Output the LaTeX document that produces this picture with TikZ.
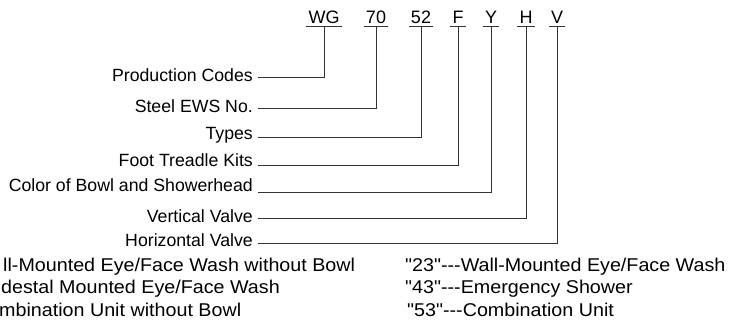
\documentclass[tikz,border=0pt]{standalone}
\usepackage{fontspec}
\setmainfont{Liberation Sans}
\newfontfamily\widefont[FakeStretch=1.065,Ligatures=TeXOff]{Liberation Sans}

\tikzset{
  code/.style={anchor=south, inner xsep=2pt, inner ysep=2pt, text height=12.5pt, text depth=0pt, font=\fontsize{18}{20}\selectfont},
  lbl/.style={anchor=base east, inner xsep=5pt, font=\fontsize{17.7}{20}\selectfont},
  typ/.style={anchor=base west, inner sep=0pt, font=\widefont\fontsize{18.5}{22}\selectfont},
  lead/.style={black!80, line width=0.8pt},
}

\begin{document}
\begin{tikzpicture}[x=1pt,y=-1pt]
  \useasboundingbox (0,0) rectangle (731,323);
  \clip (0,0) rectangle (731,323);

  % model number
  \node[code] (wg) at (324,26) {WG};
  \node[code] (steel) at (376,26) {70};
  \node[code] (type) at (421,26) {52};
  \node[code] (foot) at (458,26) {F};
  \node[code] (color) at (491,26) {Y};
  \node[code] (vert) at (526,26) {H};
  \node[code] (hori) at (557,26) {V};
  \draw[lead] (wg.south west) -- (wg.south east);
  \draw[lead] (steel.south west) -- (steel.south east);
  \draw[lead] (type.south west) -- (type.south east);
  \draw[lead] (foot.south west) -- (foot.south east);
  \draw[lead] (color.south west) -- (color.south east);
  \draw[lead] (vert.south west) -- (vert.south east);
  \draw[lead] (hori.south west) -- (hori.south east);

  % meanings
  \node[lbl] (wgtxt) at (258,82) {Production Codes};
  \node[lbl] (steeltxt) at (258,113) {Steel EWS No.};
  \node[lbl] (typetxt) at (258,140) {Types};
  \node[lbl] (foottxt) at (258,167) {Foot Treadle Kits};
  \node[lbl] (colortxt) at (258,192) {Color of Bowl and Showerhead};
  \node[lbl] (verttxt) at (258,223) {Vertical Valve};
  \node[lbl] (horitxt) at (258,247) {Horizontal Valve};

  \draw[lead] ([yshift=5pt]wgtxt.base east) -| (wg.south);
  \draw[lead] ([yshift=5pt]steeltxt.base east) -| (steel.south);
  \draw[lead] ([yshift=3pt]typetxt.base east) -| (type.south);
  \draw[lead] ([yshift=2pt]foottxt.base east) -| (foot.south);
  \draw[lead] (colortxt.base east) -| (color.south);
  \draw[lead] ([yshift=5pt]verttxt.base east) -| (vert.south);
  \draw[lead] ([yshift=4pt]horitxt.base east) -| (hori.south);

  % types
  \node[typ] (t1) at (3,271) {ll-Mounted Eye/Face Wash without Bowl};
  \node[typ] (t2) at (1,294) {destal Mounted Eye/Face Wash};
  \node[typ] (t3) at (-1,316) {mbination Unit without Bowl};
  \node[typ] (t4) at (405,271) {"23"---Wall-Mounted Eye/Face Wash};
  \node[typ] (t5) at (405,294) {"43"---Emergency Shower};
  \node[typ] (t6) at (407,316) {"53"---Combination Unit};
\end{tikzpicture}
\end{document}
